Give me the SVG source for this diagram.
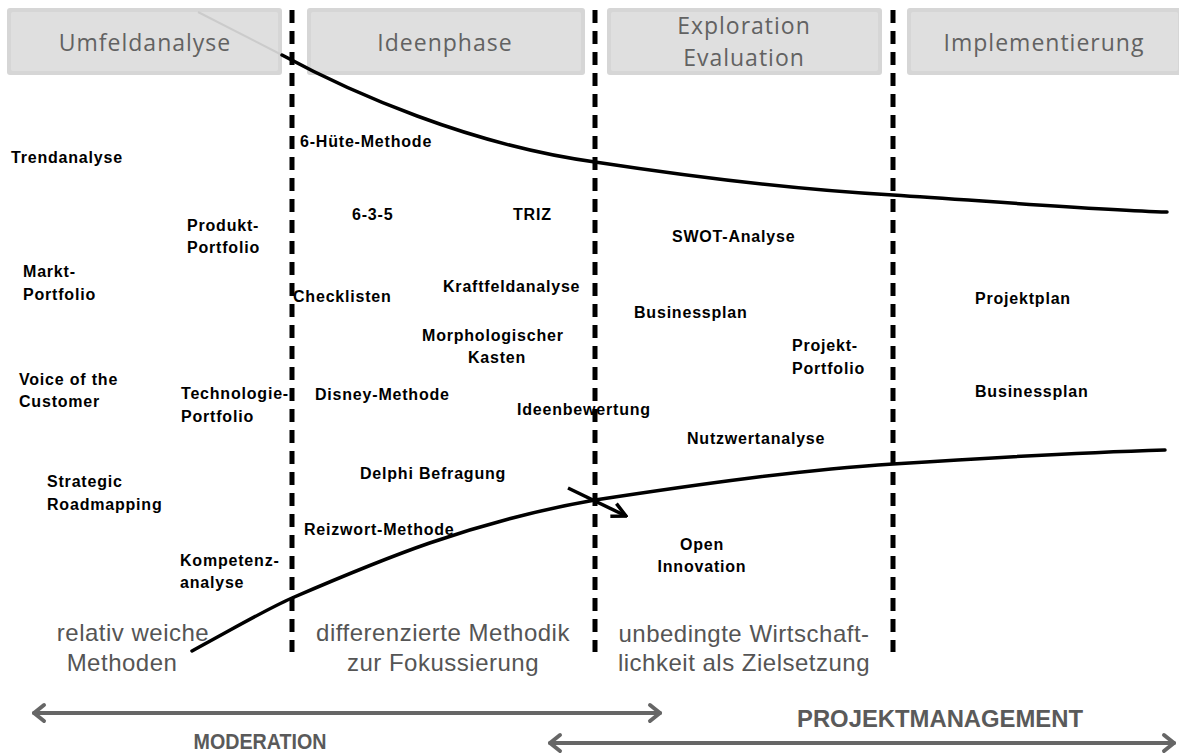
<svg xmlns="http://www.w3.org/2000/svg" width="1179" height="754" viewBox="0 0 1179 754">
<style>
.hdr-o{fill:#d6d6d6}
.hdr-i{fill:#dfdfdf}
.hdr-t{font-family:"Open Sans","Liberation Sans",sans-serif;font-size:23px;letter-spacing:1px;fill:#626262;text-anchor:middle}
.m{font-family:"Liberation Sans",Arial,sans-serif;font-size:16px;letter-spacing:0.8px;font-weight:bold;fill:#000}
.big{font-family:"Liberation Sans",Arial,sans-serif;font-size:24px;letter-spacing:0.5px;fill:#555;text-anchor:middle}
.lbl{font-family:"Liberation Sans",Arial,sans-serif;font-size:24px;font-weight:bold;fill:#5a5a5a;text-anchor:middle}
.dash{stroke:#000;stroke-width:5;stroke-dasharray:13 8;fill:none}
.curve{stroke:#000;stroke-width:3.5;fill:none;stroke-linecap:round}
.garrow{stroke:#666;stroke-width:4;fill:none;stroke-linecap:round;stroke-linejoin:round}
</style>
<defs>
<marker id="ah" viewBox="0 0 10 10" refX="9" refY="5" markerWidth="5" markerHeight="5" orient="auto" markerUnits="strokeWidth">
<path d="M1,1 L9,5 L1,9" fill="none" stroke="#000" stroke-width="2"/>
</marker>
</defs>
<rect width="1179" height="754" fill="#fff"/>

<g id="header-umfeldanalyse">
<rect class="hdr-o" x="7" y="8" width="275" height="67" rx="3"/>
<rect class="hdr-i" x="11" y="12" width="267" height="59" rx="2"/>
<line x1="198" y1="12" x2="282" y2="55" stroke="#cbcbcb" stroke-width="2"/>
<text class="hdr-t" x="145" y="51">Umfeldanalyse</text>
</g>
<g id="header-ideenphase">
<rect class="hdr-o" x="307" y="8" width="278" height="67" rx="3"/>
<rect class="hdr-i" x="311" y="12" width="270" height="59" rx="2"/>
<text class="hdr-t" x="445" y="51">Ideenphase</text>
</g>
<g id="header-exploration">
<rect class="hdr-o" x="607" y="8" width="275" height="67" rx="3"/>
<rect class="hdr-i" x="611" y="12" width="267" height="59" rx="2"/>
<text class="hdr-t" x="744" y="34">Exploration</text>
<text class="hdr-t" x="744" y="66">Evaluation</text>
</g>
<g id="header-implementierung">
<rect class="hdr-o" x="907" y="8" width="275" height="67" rx="3"/>
<rect class="hdr-i" x="911" y="12" width="267" height="59" rx="2"/>
<text class="hdr-t" x="1044" y="51">Implementierung</text>
</g>

<g id="dividers">
<line class="dash" x1="292" y1="10" x2="292" y2="652"/>
<line class="dash" x1="595" y1="10" x2="595" y2="652"/>
<line class="dash" x1="893" y1="10" x2="893" y2="652"/>
</g>

<g id="connectors">
<path class="curve" d="M282,55 C350,92 470,145 595,162 C700,178 800,190 893,195 C1000,202 1100,210 1167,212"/>
<path class="curve" d="M192,651 C240,625 265,610 292,598 C380,560 470,522 595,500 C700,484 800,470 893,464 C1000,457 1100,452 1165,450"/>
<line x1="568" y1="488" x2="626" y2="516" stroke="#000" stroke-width="3.5" marker-end="url(#ah)"/>
<g id="moderation-arrow">
<line class="garrow" x1="34" y1="713" x2="660" y2="713"/>
<path class="garrow" d="M44,705 L34,713 L44,721"/>
<path class="garrow" d="M650,705 L660,713 L650,721"/>
</g>
<g id="pm-arrow">
<line class="garrow" x1="550" y1="743" x2="1174" y2="743"/>
<path class="garrow" d="M560,735 L550,743 L560,751"/>
<path class="garrow" d="M1164,735 L1174,743 L1164,751"/>
</g>
</g>

<g id="methods">
<text class="m" x="300" y="147">6-Hüte-Methode</text>
<text class="m" x="11" y="163">Trendanalyse</text>
<text class="m" x="187" y="231">Produkt-</text>
<text class="m" x="187" y="253">Portfolio</text>
<text class="m" x="352" y="220">6-3-5</text>
<text class="m" x="513" y="220">TRIZ</text>
<text class="m" x="672" y="242">SWOT-Analyse</text>
<text class="m" x="23" y="277">Markt-</text>
<text class="m" x="23" y="300">Portfolio</text>
<text class="m" x="293" y="302">Checklisten</text>
<text class="m" x="443" y="292">Kraftfeldanalyse</text>
<text class="m" x="634" y="318">Businessplan</text>
<text class="m" x="975" y="304">Projektplan</text>
<text class="m" x="422" y="341">Morphologischer</text>
<text class="m" x="497" y="363" text-anchor="middle">Kasten</text>
<text class="m" x="792" y="351">Projekt-</text>
<text class="m" x="792" y="374">Portfolio</text>
<text class="m" x="19" y="385">Voice of the</text>
<text class="m" x="19" y="407">Customer</text>
<text class="m" x="181" y="399">Technologie-</text>
<text class="m" x="181" y="422">Portfolio</text>
<text class="m" x="315" y="400">Disney-Methode</text>
<text class="m" x="517" y="415">Ideenbewertung</text>
<text class="m" x="975" y="397">Businessplan</text>
<text class="m" x="687" y="444">Nutzwertanalyse</text>
<text class="m" x="360" y="479">Delphi Befragung</text>
<text class="m" x="47" y="487">Strategic</text>
<text class="m" x="47" y="510">Roadmapping</text>
<text class="m" x="304" y="535">Reizwort-Methode</text>
<text class="m" x="702" y="550" text-anchor="middle">Open</text>
<text class="m" x="702" y="572" text-anchor="middle">Innovation</text>
<text class="m" x="180" y="566">Kompetenz-</text>
<text class="m" x="180" y="588">analyse</text>
</g>

<g id="phase-notes">
<text class="big" x="133" y="641">relativ weiche</text>
<text class="big" x="122" y="671">Methoden</text>
<text class="big" x="443" y="641">differenzierte Methodik</text>
<text class="big" x="443" y="671">zur Fokussierung</text>
<text class="big" x="744" y="642">unbedingte Wirtschaft-</text>
<text class="big" x="744" y="671">lichkeit als Zielsetzung</text>
</g>

<g id="labels">
<text class="lbl" x="260" y="749" font-size="22" textLength="133" lengthAdjust="spacingAndGlyphs" style="font-size:22px">MODERATION</text>
<text class="lbl" x="940" y="727" textLength="286" lengthAdjust="spacingAndGlyphs">PROJEKTMANAGEMENT</text>
</g>
</svg>
